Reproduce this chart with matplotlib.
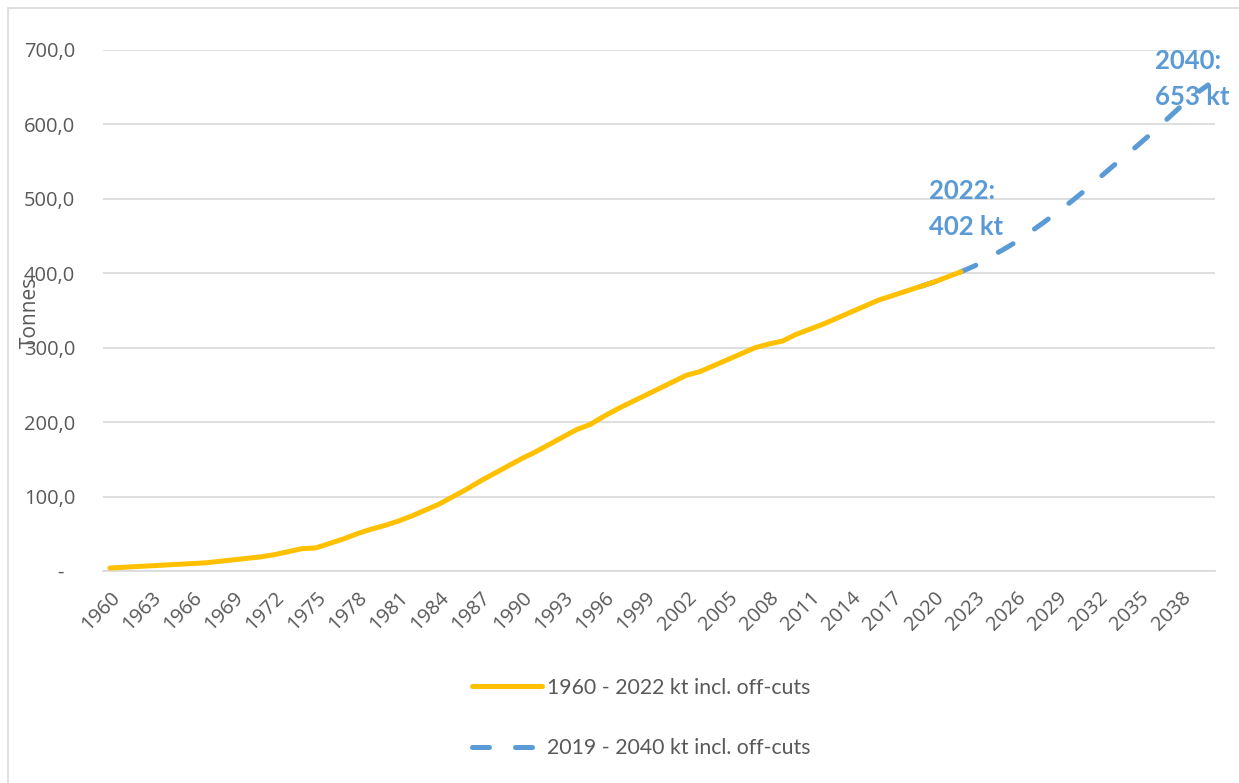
import matplotlib.pyplot as plt
from matplotlib.patches import Rectangle

# Daten: historische Werte (kt) und Prognose
jahre_hist = list(range(1960, 2023))
werte_hist = [4, 5, 6, 7, 8, 9, 10, 11, 13, 15,
              17, 19, 22, 26, 30, 31, 37, 43, 50, 56,
              61, 67, 74, 82, 90, 100, 110, 121, 131, 141,
              151, 160, 170, 180, 190, 197, 208, 218, 227, 236,
              245, 254, 263, 268, 276, 284, 292, 300, 305, 309,
              318, 325, 332, 340, 348, 356, 364, 370, 376, 382,
              388, 395, 402]

jahre_prog = list(range(2019, 2041))
werte_prog = [382, 388, 395, 402, 410, 421, 431, 442, 455, 468, 482,
              496, 511, 527, 543, 558, 574, 590, 607, 624, 640, 653]

x_ticks = list(range(1960, 2040, 3))
y_ticks = [0, 100, 200, 300, 400, 500, 600, 700]
y_labels = ["-  "] + [f"{v},0" for v in y_ticks[1:]]

label_hist = "1960 - 2022 kt incl. off-cuts"
label_prog = "2019 - 2040 kt incl. off-cuts"

GELB = "#FFC000"
BLAU = "#5B9BD5"
GRAU = "#595959"
GITTER = "#D9D9D9"

W, H = 1239, 783
fig = plt.figure(figsize=(W / 100, H / 100), dpi=100)
ax = fig.add_axes([103 / W, 1 - 571 / H, (1215 - 103) / W, (571 - 50) / H])

ax.plot(jahre_prog, werte_prog, color=BLAU, lw=3.6, dashes=(3.4, 5.2),
        dash_capstyle="round", label=label_prog, zorder=2)
ax.plot(jahre_hist, werte_hist, color=GELB, lw=3.6, solid_capstyle="round",
        label=label_hist, zorder=3)

ax.set_xlim(1959.5, 2040.5)
ax.set_ylim(0, 700)
ax.set_xticks(x_ticks)
ax.set_xticklabels([str(j) for j in x_ticks], rotation=45, ha="right",
                   va="top", rotation_mode="anchor", fontfamily="Open Sans",
                   fontsize=14.5, color=GRAU)
ax.set_yticks(y_ticks)
ax.set_yticklabels(y_labels, fontfamily="Open Sans", fontsize=14.5, color=GRAU)
ax.tick_params(axis="both", length=0)
ax.tick_params(axis="y", pad=20)
ax.tick_params(axis="x", pad=12)

ax.grid(axis="y", color=GITTER, lw=1.2)
ax.set_axisbelow(True)
for s in ["top", "right", "left"]:
    ax.spines[s].set_visible(False)
ax.spines["bottom"].set_color(GITTER)
ax.spines["bottom"].set_linewidth(1.2)

# Beschriftungen
ax.text(2019.65, 527, "2022:\n402 kt", fontfamily="Lato", fontweight="bold",
        fontsize=18.5, color=BLAU, ha="left", va="top", linespacing=1.6)
ax.text(2036.1, 702, "2040:\n653 kt", fontfamily="Lato", fontweight="bold",
        fontsize=18.5, color=BLAU, ha="left", va="top", linespacing=1.6,
        clip_on=False)

fig.text(30 / W, 1 - 312 / H, "Tonnes", rotation=90, ha="center", va="center",
         fontfamily="Open Sans", fontsize=15, color=GRAU)

# Legende
handles, labels = ax.get_legend_handles_labels()
fig.legend(handles[::-1], labels[::-1], loc="center",
           bbox_to_anchor=(641 / W, 1 - 718 / H), frameon=False,
           prop={"family": "Lato", "size": 15.3}, labelcolor=GRAU,
           handlelength=3.3, handletextpad=0.25, labelspacing=1.9)

# Rahmen
fig.add_artist(Rectangle((8 / W, -0.05), 1.1, 1 - 8 / H + 0.05,
                         transform=fig.transFigure, fill=False,
                         ec=GITTER, lw=1.2))

fig.savefig("out.png", dpi=100)
